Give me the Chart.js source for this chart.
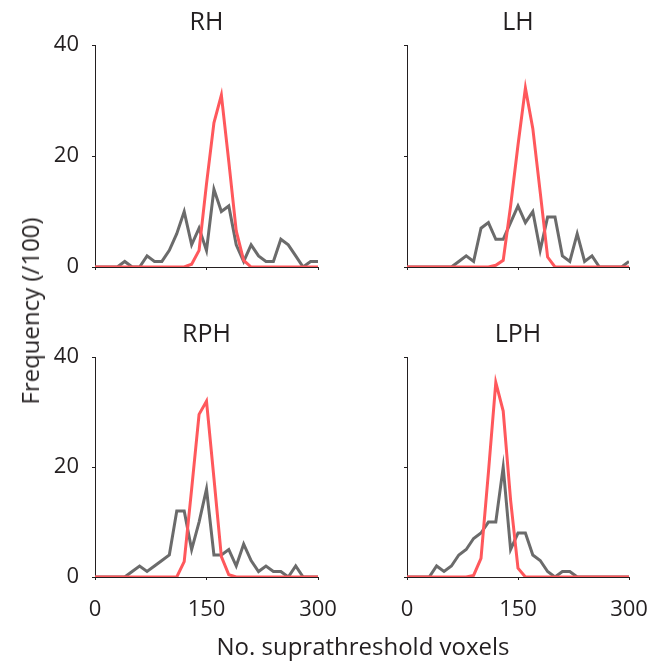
<!DOCTYPE html>
<html>
<head>
<meta charset="utf-8">
<script src="https://cdn.jsdelivr.net/npm/chart.js@4.4.1/dist/chart.umd.min.js"></script>
<style>
    html, body { margin: 0; padding: 0; background: #fff; }
    #wrap { position: relative; width: 660px; height: 661px; font-family: 'Open Sans', sans-serif; color: #231f20; }
    .panel { position: absolute; }
    .axis-title { position: absolute; white-space: nowrap; font-size: 24px; line-height: 1; }
    #yTitle { left: 30px; top: 311px; transform: translate(-50%, -50%) rotate(-90deg); }
    #xTitle { left: 363px; top: 646px; transform: translate(-50%, -50%); }
</style>
</head>
<body>
<div id="wrap">
    <div class="panel" style="left:0;top:0;width:345px;height:300px"><canvas id="rhChart"></canvas></div>
    <div class="panel" style="left:330px;top:0;width:330px;height:300px"><canvas id="lhChart"></canvas></div>
    <div class="panel" style="left:0;top:300px;width:345px;height:361px"><canvas id="rphChart"></canvas></div>
    <div class="panel" style="left:330px;top:300px;width:330px;height:361px"><canvas id="lphChart"></canvas></div>
    <div class="axis-title" id="yTitle">Frequency (/100)</div>
    <div class="axis-title" id="xTitle">No. suprathreshold voxels</div>
</div>
<script>
// bin centres (no. of suprathreshold voxels)
const voxelBins = [0, 10, 20, 30, 40, 50, 60, 70, 80, 90, 100, 110, 120, 130, 140, 150,
    160, 170, 180, 190, 200, 210, 220, 230, 240, 250, 260, 270, 280, 290, 300];

// observed (grey) and null (red) frequencies, per 100
const rhObserved = [0, 0, 0, 0, 1, 0, 0, 2, 1, 1, 3, 6, 10, 4, 7, 3, 14, 10, 11, 4, 1, 4, 2, 1, 1, 5, 4, 2, 0, 1, 1];
const rhNull = [0, 0, 0, 0, 0, 0, 0, 0, 0, 0, 0, 0, 0, 0.5, 3, 15, 26, 31, 19, 6.5, 1.2, 0, 0, 0, 0, 0, 0, 0, 0, 0, 0];

const lhObserved = [0, 0, 0, 0, 0, 0, 0, 1, 2, 1, 7, 8, 5, 5, 8, 11, 8, 10, 3, 9, 9, 2, 1, 6, 1, 2, 0, 0, 0, 0, 1];
const lhNull = [0, 0, 0, 0, 0, 0, 0, 0, 0, 0, 0, 0, 0.3, 1.2, 11, 22, 32.3, 25, 13.5, 1.8, 0, 0, 0, 0, 0, 0, 0, 0, 0, 0, 0];

const rphObserved = [0, 0, 0, 0, 0, 1, 2, 1, 2, 3, 4, 12, 12, 5, 10, 16, 4, 4, 5, 2, 6, 3, 1, 2, 1, 1, 0, 2, 0, 0, 0];
const rphNull = [0, 0, 0, 0, 0, 0, 0, 0, 0, 0, 0, 0, 2.8, 16, 29.6, 32, 18, 3.7, 0.4, 0, 0, 0, 0, 0, 0, 0, 0, 0, 0, 0, 0];

const lphObserved = [0, 0, 0, 0, 2, 1, 2, 4, 5, 7, 8, 10, 10, 20, 5, 8, 8, 4, 3, 1, 0, 1, 1, 0, 0, 0, 0, 0, 0, 0, 0];
const lphNull = [0, 0, 0, 0, 0, 0, 0, 0, 0, 0.3, 3.4, 19, 35.4, 30.2, 14, 1.6, 0, 0, 0, 0, 0, 0, 0, 0, 0, 0, 0, 0, 0, 0, 0];

const xTicks = [0, 150, 300];
const yTicks = [0, 20, 40];

const INK = '#231f20';
const GREY = '#6b6b6b';
const RED = '#ff585c';
const FONT = 'Open Sans';

const toPoints = (values) => values.map((v, i) => ({ x: voxelBins[i], y: v }));

const makePanel = (canvasId, title, observed, nullDist, box) => {
    const ctx = document.getElementById(canvasId);

    return new Chart(ctx, {
        type: 'line',
        data: {
            datasets: [{
                label: 'observed',
                data: toPoints(observed),
                borderColor: GREY,
                borderWidth: 3,
                pointRadius: 0,
                tension: 0,
                order: 1,
            }, {
                label: 'null',
                data: toPoints(nullDist),
                borderColor: RED,
                borderWidth: 3,
                pointRadius: 0,
                tension: 0,
                order: 0,
            }],
        },
        options: {
            responsive: true,
            maintainAspectRatio: false,
            animation: false,
            layout: {
                padding: { top: box.padTop, right: box.padRight, left: 0, bottom: 0 },
            },
            plugins: {
                legend: { display: false },
                tooltip: { enabled: false },
                title: {
                    display: true,
                    text: title,
                    fullSize: false,
                    color: INK,
                    font: { family: FONT, size: 25, weight: 'normal', lineHeight: 1.2 },
                    padding: { top: 7.6, bottom: 7.6 },
                },
            },
            scales: {
                x: {
                    type: 'linear',
                    min: 0,
                    max: 300,
                    afterBuildTicks: (scale) => { scale.ticks = xTicks.map((v) => ({ value: v })); },
                    afterFit: (scale) => {
                        scale.height = box.xHeight;
                        scale.paddingLeft = 0;
                        scale.paddingRight = 0;
                    },
                    grid: { drawOnChartArea: false, tickLength: 3, tickColor: INK },
                    border: { color: INK, width: 1 },
                    ticks: {
                        color: box.showX ? INK : 'transparent',
                        font: { family: FONT, size: 22 },
                        padding: 17,
                        maxRotation: 0,
                        autoSkip: false,
                    },
                },
                y: {
                    min: 0,
                    max: 40,
                    afterBuildTicks: (scale) => { scale.ticks = yTicks.map((v) => ({ value: v })); },
                    afterFit: (scale) => {
                        scale.width = box.yWidth;
                        scale.paddingTop = 0;
                        scale.paddingBottom = 0;
                    },
                    grid: { drawOnChartArea: false, tickLength: 3, tickColor: INK },
                    border: { color: INK, width: 1 },
                    ticks: {
                        color: box.showY ? INK : 'transparent',
                        font: { family: FONT, size: 22 },
                        padding: 13,
                    },
                },
            },
        },
    });
};

makePanel('rhChart', 'RH', rhObserved, rhNull, { yWidth: 95, xHeight: 33, padTop: 0, padRight: 27, showX: false, showY: true });
makePanel('lhChart', 'LH', lhObserved, lhNull, { yWidth: 77, xHeight: 33, padTop: 0, padRight: 31, showX: false, showY: false });
makePanel('rphChart', 'RPH', rphObserved, rphNull, { yWidth: 95, xHeight: 84, padTop: 12, padRight: 27, showX: true, showY: true });
makePanel('lphChart', 'LPH', lphObserved, lphNull, { yWidth: 77, xHeight: 84, padTop: 12, padRight: 31, showX: true, showY: false });
</script>
</body>
</html>
